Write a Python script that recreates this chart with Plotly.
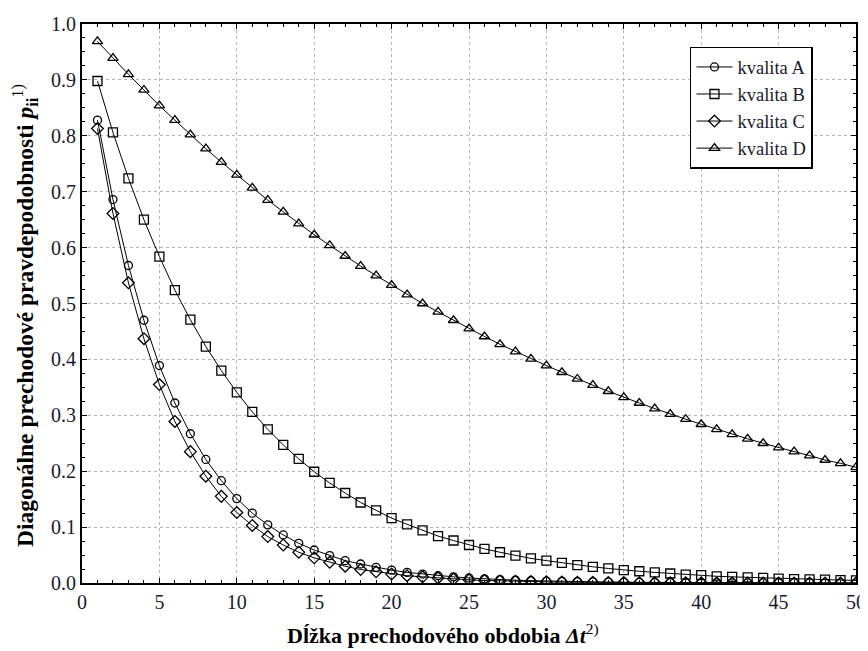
import plotly.graph_objects as go

t = list(range(1, 51))

kvalita_A = [0.828, 0.686, 0.568, 0.470, 0.389, 0.322, 0.267, 0.221, 0.183, 0.151,
             0.125, 0.104, 0.086, 0.071, 0.059, 0.049, 0.040, 0.034, 0.028, 0.023,
             0.019, 0.016, 0.013, 0.011, 0.009, 0.0074, 0.0061, 0.0051, 0.0042, 0.0035,
             0.0029, 0.0024, 0.0020, 0.0016, 0.0014, 0.0011, 0.0009, 0.0008, 0.0006, 0.0005,
             0.0004, 0.0004, 0.0003, 0.0002, 0.0002, 0.0002, 0.0001, 0.0001, 0.0001, 0.0001]

kvalita_B = [0.898, 0.806, 0.724, 0.650, 0.584, 0.524, 0.471, 0.423, 0.380, 0.341,
             0.306, 0.275, 0.247, 0.222, 0.199, 0.179, 0.161, 0.144, 0.130, 0.116,
             0.105, 0.094, 0.084, 0.076, 0.068, 0.061, 0.055, 0.049, 0.044, 0.040,
             0.036, 0.032, 0.029, 0.026, 0.023, 0.021, 0.019, 0.017, 0.015, 0.014,
             0.012, 0.011, 0.010, 0.009, 0.008, 0.007, 0.0066, 0.0059, 0.0053, 0.0046]

kvalita_C = [0.813, 0.661, 0.537, 0.437, 0.355, 0.289, 0.235, 0.191, 0.155, 0.126,
             0.103, 0.083, 0.068, 0.055, 0.045, 0.037, 0.030, 0.024, 0.020, 0.016,
             0.013, 0.011, 0.009, 0.007, 0.0057, 0.0046, 0.0037, 0.0030, 0.0025, 0.0020,
             0.0016, 0.0013, 0.0011, 0.0009, 0.0007, 0.0006, 0.0005, 0.0004, 0.0003, 0.0003,
             0.0002, 0.0002, 0.0001, 0.0001, 0.0001, 0.0001, 0.0001, 0.0001, 0.0, 0.0]

kvalita_D = [0.969, 0.939, 0.910, 0.882, 0.854, 0.828, 0.802, 0.777, 0.753, 0.730,
             0.707, 0.685, 0.664, 0.643, 0.623, 0.604, 0.585, 0.567, 0.550, 0.533,
             0.516, 0.500, 0.485, 0.470, 0.455, 0.441, 0.427, 0.414, 0.401, 0.389,
             0.377, 0.365, 0.354, 0.343, 0.332, 0.322, 0.312, 0.302, 0.293, 0.284,
             0.275, 0.266, 0.258, 0.250, 0.242, 0.235, 0.228, 0.220, 0.214, 0.207]

series = [
    ("kvalita A", kvalita_A, "circle-open", 8),
    ("kvalita B", kvalita_B, "square-open", 9),
    ("kvalita C", kvalita_C, "diamond-open", 9),
    ("kvalita D", kvalita_D, "triangle-up-open", 9),
]

x_ticks = [0, 5, 10, 15, 20, 25, 30, 35, 40, 45, 50]
y_ticks = [0.0, 0.1, 0.2, 0.3, 0.4, 0.5, 0.6, 0.7, 0.8, 0.9, 1.0]

x_title = "<b>Dĺžka prechodového obdobia <i>Δt</i></b><sup>2)</sup>"
y_title = "<b>Diagonálne prechodové pravdepodobnosti <i>p</i><sub>ii</sub></b><sup>1)</sup>"

FONT = "Liberation Serif"

fig = go.Figure()
for name, vals, sym, sz in series:
    fig.add_trace(go.Scatter(
        x=t, y=vals, name=name, mode="lines+markers",
        line=dict(color="black", width=1),
        marker=dict(symbol=sym, size=sz, color="black", line=dict(color="black", width=1.3)),
    ))

axis_common = dict(
    showline=True, linecolor="black", linewidth=2, mirror="allticks",
    ticks="inside", ticklen=5, tickwidth=1.2, tickcolor="black",
    showgrid=True, gridcolor="#b5b5b5", griddash="dot", gridwidth=1,
    zeroline=False, automargin=False,
    tickfont=dict(family=FONT, size=20, color="#1a1a2e"),
)

fig.update_xaxes(
    range=[0, 50], tickvals=x_ticks, ticktext=[str(v) for v in x_ticks],
    minor=dict(dtick=1, ticks="inside", ticklen=3, tickcolor="black", showgrid=False),
    **axis_common,
)
fig.update_yaxes(
    range=[0, 1.0], tickvals=y_ticks, ticktext=[f"{v:.1f}" for v in y_ticks],
    minor=dict(dtick=0.025, ticks="inside", ticklen=3, tickcolor="black", showgrid=False),
    **axis_common,
)

fig.add_annotation(
    text=x_title, xref="paper", yref="paper", x=0.4664, y=-0.0912,
    xanchor="center", yanchor="middle", showarrow=False,
    font=dict(family=FONT, size=22, color="black"),
)
fig.add_annotation(
    text=y_title, xref="paper", yref="paper", x=-0.0736, y=0.4776,
    xanchor="center", yanchor="middle", showarrow=False, textangle=-90,
    font=dict(family=FONT, size=23.5, color="black"),
)

# page body has an 8px default margin; figure sized to fill the 868x651 window
fig.update_layout(
    width=860, height=643,
    margin=dict(l=74, r=12, t=16, b=68, autoexpand=False),
    plot_bgcolor="white", paper_bgcolor="white",
    font=dict(family=FONT, color="black"),
    legend=dict(
        x=0.7855, y=0.959, xanchor="left", yanchor="top",
        bgcolor="white", bordercolor="black", borderwidth=1.5,
        font=dict(family=FONT, size=18.5, color="#1a1a2e"),
        tracegroupgap=0, itemwidth=36,
    ),
    showlegend=True,
)

fig.write_html("out.html")
